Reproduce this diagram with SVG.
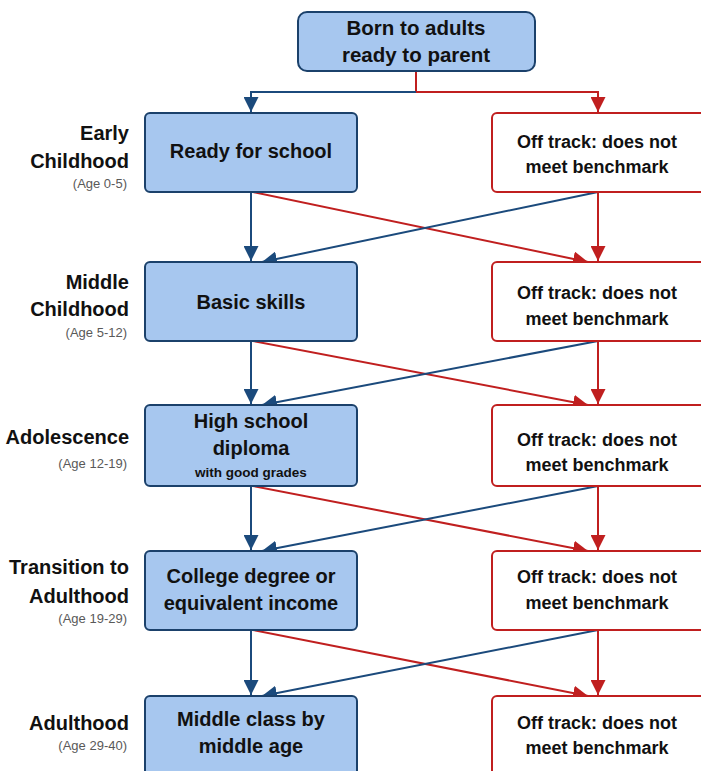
<svg xmlns="http://www.w3.org/2000/svg" width="701" height="771" viewBox="0 0 701 771">
<style>
.good{fill:#a7c7ef;stroke:#1b416b;stroke-width:2}
.bad{fill:#ffffff;stroke:#c01f1f;stroke-width:2}
.t{font-family:"Liberation Sans",Arial,sans-serif;font-weight:bold;fill:#111;text-anchor:middle}
.gt{font-size:20px}
.bt{font-size:18px}
.st{font-family:"Liberation Sans",Arial,sans-serif;font-weight:bold;font-size:20px;fill:#111;text-anchor:end}
.age{font-family:"Liberation Sans",Arial,sans-serif;font-size:13px;fill:#595959;text-anchor:end}
.bl{fill:none;stroke:#1b4a7c;stroke-width:2}
.rl{fill:none;stroke:#c01f1f;stroke-width:2}
</style>
<defs>
<marker id="ab" markerUnits="userSpaceOnUse" markerWidth="15" markerHeight="15" viewBox="0 0 15 15" refX="15" refY="7.5" orient="auto"><path d="M0,0 L15,7.5 L0,15 Z" fill="#1b4a7c"/></marker>
<marker id="ar" markerUnits="userSpaceOnUse" markerWidth="15" markerHeight="15" viewBox="0 0 15 15" refX="15" refY="7.5" orient="auto"><path d="M0,0 L15,7.5 L0,15 Z" fill="#c01f1f"/></marker>
</defs>
<rect width="701" height="771" fill="#ffffff"/>
<g id="connectors">
<path class="rl" d="M416,71 V92 H598 V112" marker-end="url(#ar)"/>
<path class="bl" d="M416,92 H251 V112" marker-end="url(#ab)"/>
<path class="bl" d="M251,192 V261" marker-end="url(#ab)"/>
<path class="rl" d="M598,192 V261" marker-end="url(#ar)"/>
<path class="rl" d="M253,192 L588,262" marker-end="url(#ar)"/>
<path class="bl" d="M598,192 L262,262" marker-end="url(#ab)"/>
<path class="bl" d="M251,341 V404" marker-end="url(#ab)"/>
<path class="rl" d="M598,341 V404" marker-end="url(#ar)"/>
<path class="rl" d="M253,341 L588,405" marker-end="url(#ar)"/>
<path class="bl" d="M598,341 L262,405" marker-end="url(#ab)"/>
<path class="bl" d="M251,486 V550" marker-end="url(#ab)"/>
<path class="rl" d="M598,486 V550" marker-end="url(#ar)"/>
<path class="rl" d="M253,486 L588,551" marker-end="url(#ar)"/>
<path class="bl" d="M598,486 L262,551" marker-end="url(#ab)"/>
<path class="bl" d="M251,630 V695" marker-end="url(#ab)"/>
<path class="rl" d="M598,630 V695" marker-end="url(#ar)"/>
<path class="rl" d="M253,630 L588,696" marker-end="url(#ar)"/>
<path class="bl" d="M598,630 L262,696" marker-end="url(#ab)"/>
</g>
<g id="start">
<rect class="good" x="298" y="12" width="237" height="59" rx="9"/>
<text class="t" x="416" y="35" font-size="20.5">Born to adults</text>
<text class="t" x="416" y="62" font-size="20.5">ready to parent</text>
</g>
<g id="stage1">
<text class="st" x="129" y="140">Early</text>
<text class="st" x="129" y="168">Childhood</text>
<text class="age" x="127" y="188">(Age 0-5)</text>
</g>
<g id="stage2">
<text class="st" x="129" y="289">Middle</text>
<text class="st" x="129" y="316">Childhood</text>
<text class="age" x="127" y="337">(Age 5-12)</text>
</g>
<g id="stage3">
<text class="st" x="129" y="444">Adolescence</text>
<text class="age" x="127" y="468">(Age 12-19)</text>
</g>
<g id="stage4">
<text class="st" x="129" y="574">Transition to</text>
<text class="st" x="129" y="603">Adulthood</text>
<text class="age" x="127" y="623">(Age 19-29)</text>
</g>
<g id="stage5">
<text class="st" x="129" y="730">Adulthood</text>
<text class="age" x="127" y="750">(Age 29-40)</text>
</g>
<g id="good1">
<rect class="good" x="145" y="113" width="212" height="79" rx="5"/>
<text class="t gt" x="251" y="158">Ready for school</text>
</g>
<g id="good2">
<rect class="good" x="145" y="262" width="212" height="79" rx="5"/>
<text class="t gt" x="251" y="309">Basic skills</text>
</g>
<g id="good3">
<rect class="good" x="145" y="405" width="212" height="81" rx="5"/>
<text class="t gt" x="251" y="428">High school</text>
<text class="t gt" x="251" y="455">diploma</text>
<text class="t" x="251" y="477" font-size="13.5">with good grades</text>
</g>
<g id="good4">
<rect class="good" x="145" y="551" width="212" height="79" rx="5"/>
<text class="t gt" x="251" y="583">College degree or</text>
<text class="t gt" x="251" y="610">equivalent income</text>
</g>
<g id="good5">
<rect class="good" x="145" y="696" width="212" height="90" rx="5"/>
<text class="t gt" x="251" y="726">Middle class by</text>
<text class="t gt" x="251" y="753">middle age</text>
</g>
<g id="off1">
<rect class="bad" x="492" y="113" width="214" height="79" rx="5"/>
<text class="t bt" x="597" y="148">Off track: does not</text>
<text class="t bt" x="597" y="173">meet benchmark</text>
</g>
<g id="off2">
<rect class="bad" x="492" y="262" width="214" height="79" rx="5"/>
<text class="t bt" x="597" y="299">Off track: does not</text>
<text class="t bt" x="597" y="325">meet benchmark</text>
</g>
<g id="off3">
<rect class="bad" x="492" y="405" width="214" height="81" rx="5"/>
<text class="t bt" x="597" y="446">Off track: does not</text>
<text class="t bt" x="597" y="471">meet benchmark</text>
</g>
<g id="off4">
<rect class="bad" x="492" y="551" width="214" height="79" rx="5"/>
<text class="t bt" x="597" y="583">Off track: does not</text>
<text class="t bt" x="597" y="609">meet benchmark</text>
</g>
<g id="off5">
<rect class="bad" x="492" y="696" width="214" height="90" rx="5"/>
<text class="t bt" x="597" y="729">Off track: does not</text>
<text class="t bt" x="597" y="754">meet benchmark</text>
</g>
</svg>
